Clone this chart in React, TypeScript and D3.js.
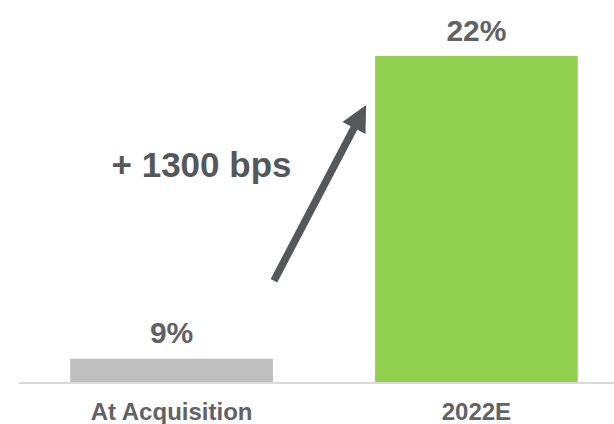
import React from "react";
import * as d3 from "d3";

const categories: string[] = ["At Acquisition", "2022E"];
const values: number[] = [9, 22];
const valueLabels: string[] = ["9%", "22%"];
const barColors: string[] = ["#bfbfbf", "#92d050"];
const annotationText = "+ 1300 bps";

const W = 614;
const H = 424;

export default function App() {
  const x = d3
    .scaleBand<string>()
    .domain(categories)
    .range([19, 629])
    .paddingInner(0.335)
    .paddingOuter(0.168);
  const y = d3.scaleLinear().domain([8, 22]).range([382, 56]);

  const font = "'Liberation Sans', Arial, Helvetica, sans-serif";
  const textColor = "#616264";
  const arrowColor = "#54585a";

  // arrow geometry derived from the bars
  const x0 = (x(categories[0]) ?? 0) + x.bandwidth();
  const x1 = x(categories[1]) ?? 0;
  const tail: [number, number] = [x0 + 1, y(values[0]) - 78];
  const tip: [number, number] = [x1 - 9, y(values[1]) + 49];
  const dx = tip[0] - tail[0];
  const dy = tip[1] - tail[1];
  const len = Math.hypot(dx, dy);
  const ux = dx / len;
  const uy = dy / len;
  const px = -uy;
  const py = ux;
  const headLen = 26;
  const headHalf = 13;
  const bx = tip[0] - ux * headLen;
  const by = tip[1] - uy * headLen;
  const headPts = [
    [tip[0], tip[1]],
    [bx + px * headHalf, by + py * headHalf],
    [bx - px * headHalf, by - py * headHalf],
  ]
    .map((p) => p.join(","))
    .join(" ");

  return (
    <svg
      width={W}
      height={H}
      style={{ position: "absolute", left: 0, top: 0, display: "block", background: "#fff" }}
    >
      <line x1={19} x2={629} y1={383} y2={383} stroke="#d9d9d9" strokeWidth={2} />
      {categories.map((c, i) => (
        <g key={c}>
          <rect
            x={x(c)}
            y={y(values[i])}
            width={x.bandwidth()}
            height={y(8) - y(values[i])}
            fill={barColors[i]}
          />
          <text
            x={(x(c) ?? 0) + x.bandwidth() / 2}
            y={y(values[i]) - 15.5}
            textAnchor="middle"
            fontFamily={font}
            fontWeight="bold"
            fontSize={30}
            fill={textColor}
          >
            {valueLabels[i]}
          </text>
          <text
            x={(x(c) ?? 0) + x.bandwidth() / 2}
            y={420}
            textAnchor="middle"
            fontFamily={font}
            fontWeight="bold"
            fontSize={24}
            fill={textColor}
          >
            {c}
          </text>
        </g>
      ))}
      <line
        x1={tail[0]}
        y1={tail[1]}
        x2={bx + ux * 2}
        y2={by + uy * 2}
        stroke={arrowColor}
        strokeWidth={7.5}
      />
      <polygon points={headPts} fill={arrowColor} />
      <text
        x={201.5}
        y={177}
        textAnchor="middle"
        fontFamily={font}
        fontWeight="bold"
        fontSize={35}
        fill={arrowColor}
      >
        {annotationText}
      </text>
    </svg>
  );
}
